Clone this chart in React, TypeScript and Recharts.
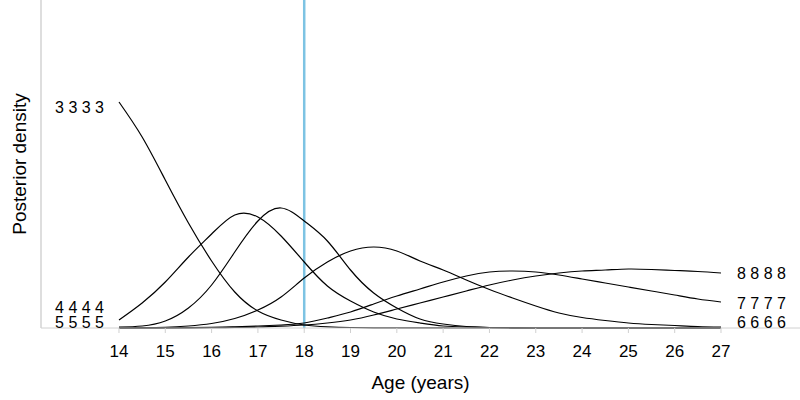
import React from 'react';
import {
  LineChart,
  Line,
  XAxis,
  YAxis,
  ReferenceLine,
  Label,
} from 'recharts';

// Age grid (years), every half year
const ages = [
  14, 14.5, 15, 15.5, 16, 16.5, 17, 17.5, 18, 18.5, 19, 19.5, 20, 20.5,
  21, 21.5, 22, 22.5, 23, 23.5, 24, 24.5, 25, 25.5, 26, 26.5, 27,
];

// Posterior densities
const s3 = [
  0.452, 0.382, 0.296, 0.21, 0.134, 0.072, 0.034, 0.016, 0.006, 0.0024, 0.001,
  0.0004, 0.0002, 0.0001, 0.0001, 0, 0, 0, 0, 0, 0, 0, 0, 0, 0, 0, 0,
];
const s4 = [
  0.016, 0.05, 0.092, 0.142, 0.188, 0.226, 0.222, 0.184, 0.132, 0.084, 0.054,
  0.032, 0.018, 0.01, 0.004, 0.002, 0.001, 0.0004, 0, 0, 0, 0, 0, 0, 0, 0, 0,
];
const s5 = [
  0.002, 0.004, 0.014, 0.04, 0.086, 0.152, 0.214, 0.24, 0.214, 0.174, 0.116,
  0.07, 0.04, 0.018, 0.008, 0.003, 0.001, 0.0004, 0, 0, 0, 0, 0, 0, 0, 0, 0,
];
const s6 = [
  0.0002, 0.0006, 0.0014, 0.004, 0.009, 0.019, 0.036, 0.062, 0.1, 0.132, 0.154,
  0.162, 0.154, 0.134, 0.116, 0.096, 0.077, 0.06, 0.044, 0.03, 0.021, 0.015,
  0.01, 0.007, 0.005, 0.003, 0.002,
];
const s7 = [
  0, 0.0002, 0.0004, 0.0008, 0.0014, 0.0025, 0.004, 0.006, 0.01, 0.02, 0.032,
  0.048, 0.064, 0.078, 0.092, 0.104, 0.112, 0.114, 0.112, 0.106, 0.098, 0.09,
  0.082, 0.074, 0.066, 0.058, 0.052,
];
const s8 = [
  0, 0, 0.0002, 0.0004, 0.0006, 0.0012, 0.002, 0.0036, 0.006, 0.01, 0.016,
  0.026, 0.038, 0.05, 0.062, 0.074, 0.086, 0.096, 0.104, 0.11, 0.114, 0.116,
  0.118, 0.117, 0.115, 0.113, 0.11,
];

const xTicks = [14, 15, 16, 17, 18, 19, 20, 21, 22, 23, 24, 25, 26, 27];
const cutoffAge = 18;

const data = ages.map((age, i) => ({
  age,
  s3: s3[i],
  s4: s4[i],
  s5: s5[i],
  s6: s6[i],
  s7: s7[i],
  s8: s8[i],
}));

const FONT = '"Liberation Sans", Arial, sans-serif';

// label drawn beside the first or last point of a curve
const makeEndLabel = (text: string, side: 'left' | 'right', dy: number) => {
  const EndLabel = (props: any) => {
    const { x, y, index } = props;
    const wanted = side === 'left' ? 0 : ages.length - 1;
    if (index !== wanted) return null;
    return (
      <text
        x={side === 'left' ? x - 15 : x + 16}
        y={y + dy}
        textAnchor={side === 'left' ? 'end' : 'start'}
        dominantBaseline="central"
        fontSize={16}
        fontFamily={FONT}
        fill="#000"
      >
        {text}
      </text>
    );
  };
  return EndLabel;
};

const curves = [
  { key: 's3', text: '3 3 3 3', side: 'left' as const, dy: 5 },
  { key: 's4', text: '4 4 4 4', side: 'left' as const, dy: -13 },
  { key: 's5', text: '5 5 5 5', side: 'left' as const, dy: -4.5 },
  { key: 's6', text: '6 6 6 6', side: 'right' as const, dy: -4.5 },
  { key: 's7', text: '7 7 7 7', side: 'right' as const, dy: 1 },
  { key: 's8', text: '8 8 8 8', side: 'right' as const, dy: 0 },
];

const App: React.FC = () => {
  return (
    <div style={{ width: 800, height: 400 }}>
      <style>{'body { margin: 0; }'}</style>
      <LineChart
        width={800}
        height={400}
        data={data}
        margin={{ top: 0, right: 0, left: 0, bottom: 0 }}
      >
        <XAxis
          dataKey="age"
          type="number"
          domain={[12.316, 28.706]}
          ticks={xTicks}
          interval={0}
          height={72}
          stroke="#d0d0d0"
          tickSize={5}
          tickMargin={12}
          tick={{ fill: '#000', fontSize: 17, fontFamily: FONT }}
        >
          <Label
            value="Age (years)"
            position="insideBottom"
            offset={11}
            style={{ fill: '#000', fontSize: 19, fontFamily: FONT }}
          />
        </XAxis>
        <YAxis
          type="number"
          domain={[0, 0.656]}
          width={41}
          tick={false}
          tickLine={false}
          axisLine={{ stroke: '#d3d3d3', strokeWidth: 1.5 }}
        >
          <Label
            content={({ viewBox }: any) => {
              const cx = viewBox.x + 25.5;
              const cy = viewBox.y + viewBox.height / 2;
              return (
                <text
                  x={cx}
                  y={cy}
                  transform={`rotate(-90 ${cx} ${cy})`}
                  textAnchor="middle"
                  fontSize={19}
                  fontFamily={FONT}
                  fill="#000"
                >
                  Posterior density
                </text>
              );
            }}
          />
        </YAxis>

        <ReferenceLine x={cutoffAge} stroke="#7dc3e3" strokeWidth={2.5} />

        {curves.map((c) => (
          <Line
            key={c.key}
            type="natural"
            dataKey={c.key}
            stroke="#000"
            strokeWidth={1.2}
            dot={false}
            activeDot={false}
            isAnimationActive={false}
            label={makeEndLabel(c.text, c.side, c.dy)}
          />
        ))}
      </LineChart>
    </div>
  );
};

export default App;
